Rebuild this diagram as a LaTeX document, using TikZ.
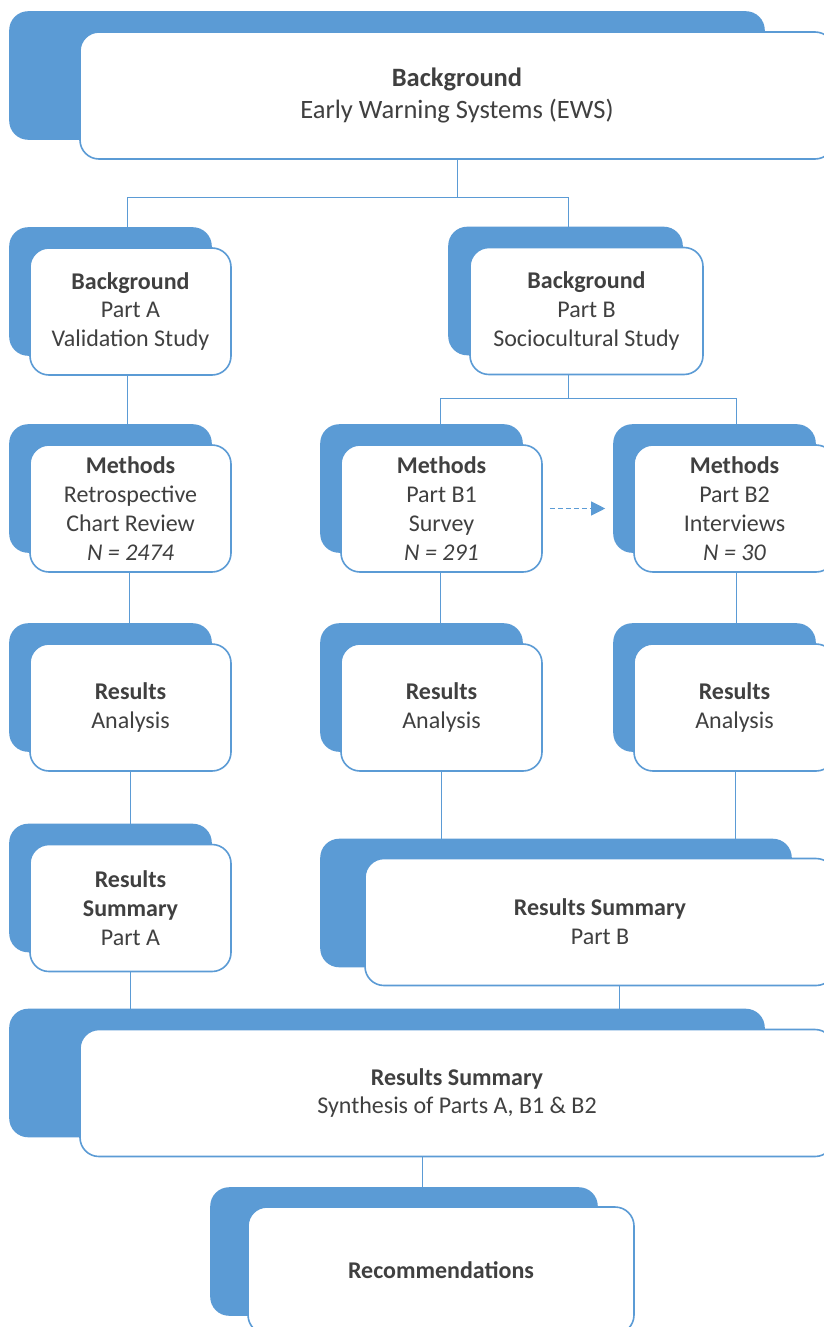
\documentclass[tikz,border=0pt]{standalone}
\usepackage{fontspec}
\setmainfont{Carlito}
\usetikzlibrary{arrows.meta,calc}
\definecolor{ewsblue}{HTML}{5B9BD5}
\definecolor{ewstext}{HTML}{404040}
\pgfdeclarelayer{background}
\pgfdeclarelayer{bluelayer}
\pgfsetlayers{background,bluelayer,main}
\begin{document}
\begin{tikzpicture}[x=1pt,y=-1pt,
  wbox/.style={draw=ewsblue, line width=1.6pt, fill=white, rounded corners=19pt,
    inner sep=0pt, align=center, text=ewstext,
    font=\fontsize{24}{28.8}\selectfont, minimum height=127pt, minimum width=201pt},
  link/.style={draw=ewsblue, line width=1pt},
  hint/.style={draw=ewsblue, line width=1pt, dash pattern=on 5pt off 3pt,
    -{Triangle[length=14pt,width=14pt]}}
]
\useasboundingbox (0,0) rectangle (823,1327);

% white boxes
\node[wbox, minimum width=754pt, font=\fontsize{26.5}{32}\selectfont] (top) at (457,95.5)
  {\textbf{Background}\\Early Warning Systems (EWS)};
\node[wbox] (bgA) at (130.5,311.5) {\textbf{Background}\\Part A\\Validation Study};
\node[wbox, minimum width=233pt] (bgB) at (586.5,311) {\textbf{Background}\\Part B\\Sociocultural Study};
\node[wbox] (methA) at (130.5,508.5) {\textbf{Methods}\\Retrospective\\Chart Review\\\textit{N = 2474}};
\node[wbox] (methB1) at (441.5,508.5) {\textbf{Methods}\\Part B1\\Survey\\\textit{N = 291}};
\node[wbox] (methB2) at (734.5,508.5) {\textbf{Methods}\\Part B2\\Interviews\\\textit{N = 30}};
\node[wbox] (resA) at (130.5,707.5) {\textbf{Results}\\Analysis};
\node[wbox] (resB1) at (441.5,707.5) {\textbf{Results}\\Analysis};
\node[wbox] (resB2) at (734.5,707.5) {\textbf{Results}\\Analysis};
\node[wbox] (sumA) at (130.5,908) {\textbf{Results}\\\textbf{Summary}\\Part A};
\node[wbox, minimum width=470pt] (sumB) at (600,922) {\textbf{Results Summary}\\Part B};
\node[wbox, minimum width=754pt] (synth) at (457,1093) {\textbf{Results Summary}\\Synthesis of Parts A, B1 \& B2};
\node[wbox, minimum width=386pt] (rec) at (441,1270.5) {\textbf{Recommendations}};

% blue back shapes
\begin{pgfonlayer}{bluelayer}
\foreach \n/\dx/\dy in {top/70/20, bgA/20/20, bgB/21/20, methA/20/20, methB1/20/20, methB2/20/20,
    resA/20/20, resB1/20/20, resB2/20/20, sumA/20/20, sumB/44/19, synth/70/20, rec/37/19}
  \fill[ewsblue, rounded corners=19pt] ([shift={(-\dx,-\dy)}]\n.south west) rectangle ([shift={(-\dx,-\dy)}]\n.north east);
\end{pgfonlayer}

% connectors
\begin{pgfonlayer}{background}
\fill[white] (0,0) rectangle (823,1327);
\coordinate (bus1) at ($(top.south)+(0,38)$);
\draw[link] (top.south) -- (bus1) -| ([xshift=-3.5pt]bgA.north);
\draw[link] (bus1) -| ([xshift=-18pt]bgB.north);
\draw[link] ([xshift=-3.5pt]bgA.south) -- ([xshift=-3.5pt]methA.north);
\draw[link] ([xshift=-1pt]methA.south) -- ([xshift=-1pt]resA.north);
\draw[link] (resA.south) -- (sumA.north);
\draw[link] (sumA.south) -- (sumA.south |- synth.north);
\coordinate (bus2) at ($([xshift=-18pt]bgB.south)+(0,23)$);
\draw[link] ([xshift=-18pt]bgB.south) -- (bus2) -| ([xshift=-1pt]methB1.north);
\draw[link] (bus2) -| ([xshift=1.5pt]methB2.north);
\draw[link] ([xshift=-1pt]methB1.south) -- ([xshift=-1pt]resB1.north);
\draw[link] ([xshift=1.5pt]methB2.south) -- ([xshift=1.5pt]resB2.north);
\draw[link] (resB1.south) -- (resB1.south |- sumB.north);
\draw[link] ([xshift=0.5pt]resB2.south) -- ([xshift=0.5pt]resB2.south |- sumB.north);
\draw[link] ([xshift=19.5pt]sumB.south) -- ([xshift=19.5pt]sumB.south |- synth.north);
\draw[link] ([xshift=-34.5pt]synth.south) -- ([xshift=-34.5pt]synth.south |- rec.north);
\end{pgfonlayer}

\draw[hint] ([xshift=7pt]methB1.east) -- ([xshift=-28pt]methB2.west);
\end{tikzpicture}
\end{document}
